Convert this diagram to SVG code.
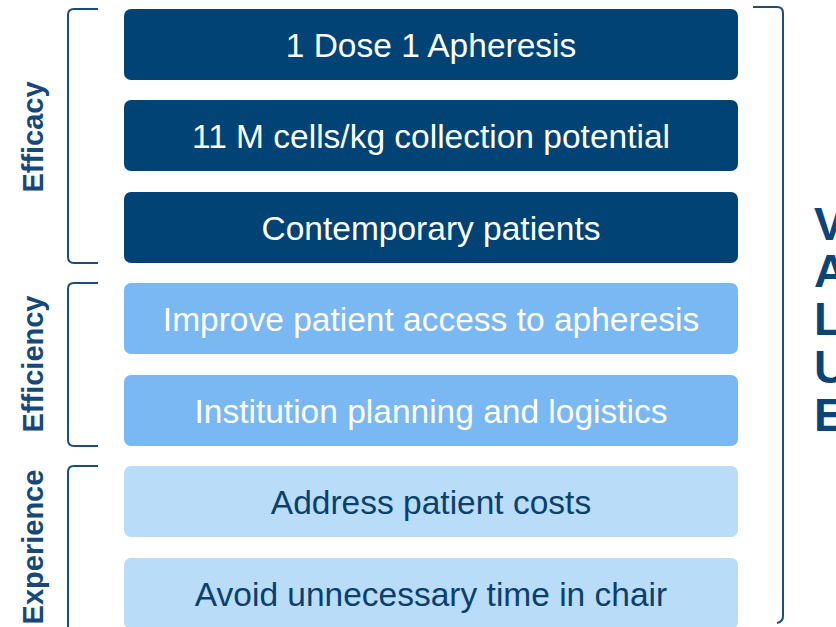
<svg xmlns="http://www.w3.org/2000/svg" width="836" height="627" viewBox="0 0 836 627">
<style>
.box{stroke:none}
.dark{fill:#004374}
.mid{fill:#79B8F2}
.light{fill:#B9DCF9}
.t{font-family:"Liberation Sans",Arial,sans-serif;font-size:33.5px;text-anchor:middle}
.tw{fill:#ffffff}
.td{fill:#0B3F6C}
.lab{font-family:"Liberation Sans",Arial,sans-serif;font-size:29px;font-weight:bold;fill:#16497A;text-anchor:middle}
.br{fill:none;stroke:#1A4C7C;stroke-width:2}
.val{font-family:"Liberation Sans",Arial,sans-serif;font-size:46px;font-weight:bold;fill:#0B4578}
</style>
<rect width="836" height="627" fill="#ffffff"/>
<g id="connectors">
<path class="br" d="M98 9 H74 Q68 9 68 15 V257 Q68 263 74 263 H98"/>
<path class="br" d="M98 283 H74 Q68 283 68 289 V440 Q68 446 74 446 H98"/>
<path class="br" d="M98 466 H74 Q68 466 68 472 V640"/>
<path class="br" d="M753 7 H777 Q783 7 783 13 V616 Q783 622 777 623"/>
</g>
<g id="label-efficacy"><text class="lab" transform="translate(43,137) rotate(-90)">Efficacy</text></g>
<g id="label-efficiency"><text class="lab" transform="translate(43,364) rotate(-90)">Efficiency</text></g>
<g id="label-experience"><text class="lab" transform="translate(43,547) rotate(-90)">Experience</text></g>
<g id="node1"><rect class="box dark" x="124" y="9" width="614" height="71" rx="7"/><text class="t tw" x="431" y="57">1 Dose 1 Apheresis</text></g>
<g id="node2"><rect class="box dark" x="124" y="100" width="614" height="71" rx="7"/><text class="t tw" x="431" y="148">11 M cells/kg collection potential</text></g>
<g id="node3"><rect class="box dark" x="124" y="192" width="614" height="71" rx="7"/><text class="t tw" x="431" y="240">Contemporary patients</text></g>
<g id="node4"><rect class="box mid" x="124" y="283" width="614" height="71" rx="7"/><text class="t tw" x="431" y="331">Improve patient access to apheresis</text></g>
<g id="node5"><rect class="box mid" x="124" y="375" width="614" height="71" rx="7"/><text class="t tw" x="431" y="423">Institution planning and logistics</text></g>
<g id="node6"><rect class="box light" x="124" y="466" width="614" height="71" rx="7"/><text class="t td" x="431" y="514">Address patient costs</text></g>
<g id="node7"><rect class="box light" x="124" y="558" width="614" height="71" rx="7"/><text class="t td" x="431" y="606">Avoid unnecessary time in chair</text></g>
<g id="value">
<text class="val" x="814" y="240">V</text>
<text class="val" x="814" y="287">A</text>
<text class="val" x="814" y="335">L</text>
<text class="val" x="814" y="383">U</text>
<text class="val" x="814" y="431">E</text>
</g>
</svg>
